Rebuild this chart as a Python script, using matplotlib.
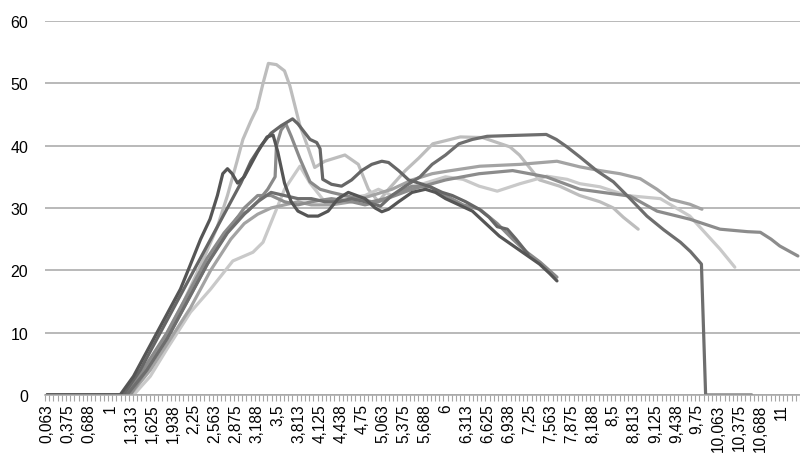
from decimal import Decimal, ROUND_HALF_UP

import matplotlib
matplotlib.use("Agg")
import matplotlib.pyplot as plt
import numpy as np

plt.rcParams["font.family"] = ["Liberation Sans", "DejaVu Sans"]

# category axis: 0,0625 steps, 180 categories
step = 0.0625
n_cat = 180

# eight runs (x = category value, y = value)
a_x = [1.2, 1.5, 1.8, 2.1, 2.4, 2.6, 2.75, 2.89, 2.98, 3.1, 3.19, 3.28, 3.36, 3.48, 3.6, 3.68,
       3.83, 3.94, 4.05, 4.2, 4.5, 4.7, 4.85, 5.0, 5.15, 5.4, 5.6, 5.81, 6.0, 6.22, 6.55, 6.96,
       7.1, 7.25, 7.4, 7.7, 8.0, 8.3, 8.5, 8.65, 8.87]
a_y = [0, 4, 9, 15, 22, 27, 32, 37.4, 41, 44, 46, 50, 53.2, 53, 52, 49.6,
       43.2, 40, 36.5, 37.5, 38.5, 37, 33, 31, 33, 36, 38, 40.3, 40.8, 41.4, 41.3, 39.8,
       38.5, 36.5, 34.5, 33.5, 32, 31, 30, 28.5, 26.6]

b_x = [1.15, 1.35, 1.6, 1.89, 2.05, 2.19, 2.35, 2.49, 2.6, 2.68, 2.75, 2.82, 2.9, 3.0, 3.1,
       3.2, 3.34, 3.43, 3.5, 3.6, 3.7, 3.8, 3.95, 4.1, 4.25, 4.4, 4.55, 4.8, 4.95, 5.05, 5.15,
       5.3, 5.5, 5.7, 5.85, 6.0, 6.2, 6.4, 6.6, 6.8, 7.0, 7.2, 7.4, 7.55, 7.66]
b_y = [0, 3, 8, 13.8, 17, 20.7, 25, 28.2, 32, 35.5, 36.3, 35.5, 34, 35, 37,
       39, 41.4, 41.7, 39, 34, 31, 29.5, 28.7, 28.7, 29.5, 31.5, 32.5, 31.5, 30, 29.4, 29.8,
       31, 32.5, 33, 32.5, 31.5, 30.5, 29.5, 27.5, 25.5, 24, 22.5, 21, 19.5, 18.3]

c_x = [1.2, 1.45, 1.75, 2.05, 2.35, 2.6, 2.8, 2.95, 3.1, 3.25, 3.4, 3.55, 3.72, 3.8, 3.98,
       4.08, 4.13, 4.17, 4.3, 4.45, 4.6, 4.75, 4.9, 5.05, 5.15, 5.3, 5.45, 5.6, 5.77, 5.95,
       6.1, 6.3, 6.5, 6.65, 6.77, 6.92, 7.05, 7.23]
c_y = [0, 4, 10, 16, 22, 27, 31, 34, 37.5, 40, 42, 43.2, 44.3, 43.5, 41,
       40.5, 39.5, 34.6, 33.8, 33.5, 34.5, 36, 37, 37.5, 37.3, 36, 34.5, 34, 33.4, 32.5,
       32, 31, 29.8, 28.5, 27, 26.6, 25, 22.6]

d_x = [1.25, 1.55, 1.85, 2.15, 2.45, 2.7, 2.9, 3.05, 3.2, 3.35, 3.46, 3.48, 3.55, 3.62, 3.7,
       3.83, 3.98, 4.13, 4.3, 4.5, 4.7, 4.9, 5.1, 5.3, 5.5, 5.77, 6.0, 6.26, 6.51, 6.77, 7.0,
       7.2, 7.41, 7.66]
d_y = [0, 5, 10, 16, 22, 26, 28.5, 29.5, 31, 33, 35, 40, 42.5, 43.5, 41.5,
       37.9, 34.2, 33, 32.5, 32, 31.5, 31, 31.5, 32.5, 33.5, 33.4, 32, 30.5, 29.8, 27.5, 25,
       23, 21.3, 18.9]

e_x = [1.25, 1.55, 1.85, 2.15, 2.45, 2.75, 3.0, 3.2, 3.4, 3.6, 3.8, 4.0, 4.2, 4.4, 4.6, 4.8,
       5.03, 5.2, 5.4, 5.62, 5.8, 6.0, 6.2, 6.4, 6.62, 6.9, 7.2, 7.5, 7.65, 7.81, 8.0, 8.25,
       8.5, 8.75, 9.0, 9.25, 9.5, 9.65, 9.8125, 9.875, 10.5625]
e_y = [0, 4, 9, 15, 21, 26, 29, 31, 32.5, 32, 31.5, 31.5, 31, 31, 31.5, 31,
       30.3, 32, 33.5, 35, 37, 38.5, 40.3, 41, 41.5, 41.6, 41.7, 41.8, 41, 39.8, 38.2, 36,
       34.2, 31.5, 28.7, 26.5, 24.5, 23, 21, 0, 0]

f_x = [1.3, 1.6, 1.9, 2.2, 2.5, 2.8, 3.0, 3.2, 3.4, 3.6, 3.8, 4.0, 4.3, 4.6, 4.8, 5.0, 5.5,
       6.0, 6.5, 7.0, 7.5, 8.0, 8.75, 9.15, 9.64, 10.09, 10.5, 10.69, 10.85, 10.98, 11.25]
f_y = [0, 5, 10, 16, 22, 27, 30, 32, 32, 31, 30.5, 31, 31.5, 31, 30.5, 31, 33,
       34.5, 35.5, 36, 35, 33, 31.9, 29.5, 28.2, 26.6, 26.2, 26.1, 25, 23.9, 22.3]

g_x = [1.35, 1.6, 1.85, 2.2, 2.5, 2.83, 3.13, 3.28, 3.48, 3.6, 3.83, 3.98, 4.2, 4.5, 4.8,
       5.0, 5.2, 5.4, 5.7, 6.0, 6.26, 6.5, 6.77, 7.11, 7.51, 7.81, 8.0, 8.3, 8.7, 9.2, 9.64,
       10.09, 10.31]
g_y = [0, 3, 7.4, 13.3, 17, 21.5, 22.9, 24.5, 29.8, 33, 36.7, 34, 31, 31.5, 32,
       33, 32, 33, 34, 35, 34.6, 33.5, 32.7, 33.9, 35.1, 34.6, 33.9, 33.4, 32, 31.5, 28.7,
       23.4, 20.5]

h_x = [1.3, 1.6, 1.9, 2.2, 2.5, 2.8, 3.0, 3.2, 3.4, 3.6, 3.8, 4.0, 4.3, 4.6, 4.9, 5.2, 5.5,
       5.8, 6.02, 6.51, 7.11, 7.66, 8.0, 8.3, 8.6, 8.9, 9.15, 9.35, 9.64, 9.82]
h_y = [0, 4, 9, 14, 20, 25, 27.5, 29, 30, 30.5, 31, 30.5, 30.5, 31, 32, 33, 34.5,
       35.5, 35.9, 36.7, 37, 37.5, 36.6, 36, 35.5, 34.7, 33, 31.4, 30.6, 29.8]

runs = [(a_x, a_y, "#bdbdbd"), (g_x, g_y, "#c9c9c9"), (h_x, h_y, "#a3a3a3"),
        (f_x, f_y, "#8c8c8c"), (d_x, d_y, "#8a8a8a"), (e_x, e_y, "#6e6e6e"),
        (c_x, c_y, "#666666"), (b_x, b_y, "#555555")]


def excel_label(v):
    d = Decimal(str(v)).quantize(Decimal("0.001"), rounding=ROUND_HALF_UP).normalize()
    s = format(d, "f")
    return s.replace(".", ",")


fig = plt.figure(figsize=(8, 4.64), dpi=100)
ax = fig.add_axes([0.05625, 0.1466, 0.94375, 0.806])

for xs, ys, col in runs:
    # leading zero stretch from the first category
    xx = [step] + list(xs)
    yy = [0] + list(ys)
    ax.plot(xx, yy, color=col, lw=2.3, solid_joinstyle="round", solid_capstyle="round")

ax.set_xlim(step / 2, step * n_cat + step / 2)
ax.set_ylim(0, 60)
ax.set_yticks(np.arange(0, 61, 10))
ax.yaxis.grid(True, color="#a6a6a6", lw=1.1)
ax.set_axisbelow(True)

label_vals = [step * i for i in range(1, n_cat + 1, 5)]
ax.set_xticks(label_vals)
ax.set_xticklabels([excel_label(v) for v in label_vals], rotation=90, fontsize=11.2)
ax.set_xticks([step * k + step / 2 for k in range(0, n_cat + 1)], minor=True)
ax.tick_params(axis="x", which="major", length=0, pad=6)
ax.tick_params(axis="x", which="minor", length=4, color="#a6a6a6", width=0.8)
ax.tick_params(axis="y", length=0, labelsize=11.5, pad=12)

for s in ["top", "right", "left"]:
    ax.spines[s].set_visible(False)
ax.spines["bottom"].set_color("#a6a6a6")
ax.spines["bottom"].set_linewidth(1.1)

fig.savefig("out.png", dpi=100)
